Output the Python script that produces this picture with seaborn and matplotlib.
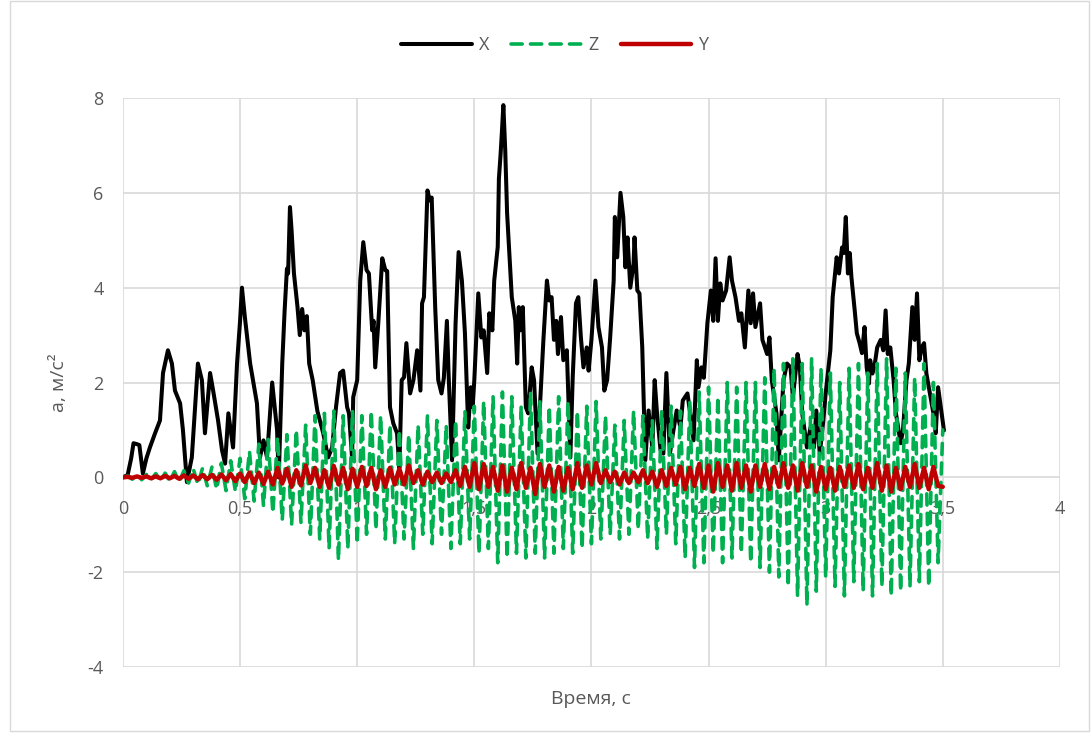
import numpy as np
import pandas as pd
import matplotlib
matplotlib.use("Agg")
import matplotlib.pyplot as plt
import seaborn as sns
from matplotlib.patches import Rectangle

# ---------------- data ----------------
X_TIME = [0.0, 0.02, 0.035, 0.045, 0.06, 0.07, 0.085, 0.1, 0.115, 0.137, 0.158, 0.171, 0.192, 0.209,
          0.222, 0.244, 0.256, 0.273, 0.294, 0.32, 0.337, 0.35, 0.372, 0.385, 0.406, 0.423, 0.436,
          0.45, 0.47, 0.487, 0.5, 0.508, 0.52, 0.543, 0.572, 0.585, 0.6, 0.615, 0.637, 0.658, 0.665,
          0.68, 0.69, 0.7, 0.705, 0.713, 0.72, 0.73, 0.745, 0.755, 0.765, 0.775, 0.785, 0.795, 0.81,
          0.83, 0.855, 0.876, 0.893, 0.91, 0.927, 0.94, 0.957, 0.965, 0.978, 0.983, 1.0, 1.013, 1.026,
          1.04, 1.05, 1.064, 1.07, 1.077, 1.09, 1.107, 1.12, 1.128, 1.14, 1.154, 1.17, 1.18, 1.19, 1.2,
          1.21, 1.226, 1.24, 1.256, 1.27, 1.277, 1.285, 1.3, 1.31, 1.318, 1.333, 1.346, 1.36, 1.37,
          1.383, 1.39, 1.405, 1.42, 1.433, 1.447, 1.46, 1.474, 1.485, 1.493, 1.5, 1.517, 1.53, 1.54,
          1.555, 1.564, 1.577, 1.585, 1.6, 1.605, 1.612, 1.618, 1.624, 1.632, 1.64, 1.66, 1.675, 1.683,
          1.69, 1.696, 1.707, 1.72, 1.73, 1.745, 1.755, 1.77, 1.78, 1.795, 1.81, 1.82, 1.83, 1.84, 1.85,
          1.857, 1.87, 1.88, 1.895, 1.91, 1.92, 1.934, 1.944, 1.955, 1.966, 1.98, 1.988, 2.0, 2.017,
          2.03, 2.045, 2.055, 2.067, 2.08, 2.095, 2.1, 2.11, 2.124, 2.136, 2.145, 2.154, 2.166, 2.18,
          2.184, 2.196, 2.205, 2.217, 2.23, 2.244, 2.26, 2.27, 2.28, 2.295, 2.307, 2.32, 2.335, 2.35,
          2.364, 2.38, 2.39, 2.41, 2.42, 2.436, 2.45, 2.457, 2.47, 2.48, 2.495, 2.51, 2.52, 2.53, 2.54,
          2.55, 2.56, 2.575, 2.59, 2.6, 2.615, 2.63, 2.64, 2.655, 2.67, 2.68, 2.69, 2.7, 2.72, 2.73,
          2.75, 2.76, 2.77, 2.79, 2.8, 2.82, 2.835, 2.85, 2.86, 2.88, 2.89, 2.9, 2.92, 2.935, 2.95,
          2.96, 2.975, 2.99, 3.0, 3.02, 3.03, 3.047, 3.057, 3.07, 3.077, 3.086, 3.095, 3.103, 3.11,
          3.124, 3.133, 3.145, 3.155, 3.166, 3.175, 3.185, 3.19, 3.2, 3.21, 3.22, 3.235, 3.246, 3.256,
          3.265, 3.276, 3.29, 3.3, 3.32, 3.33, 3.345, 3.355, 3.37, 3.38, 3.39, 3.4, 3.41, 3.42, 3.43,
          3.445, 3.46, 3.47, 3.48, 3.495, 3.505]
X_VALUES = [0.0, 0.05, 0.4, 0.72, 0.7, 0.68, 0.08, 0.4, 0.63, 0.93, 1.2, 2.2, 2.68, 2.4,
            1.83, 1.56, 1.0, -0.1, 0.42, 2.4, 2.05, 0.93, 2.2, 1.83, 1.2, 0.57, 0.29,
            1.35, 0.63, 2.4, 3.3, 4.0, 3.4, 2.4, 1.56, 0.42, 0.78, 0.42, 2.0, 0.99, 0.0,
            2.4, 3.5, 4.4, 4.3, 5.7, 5.2, 4.3, 3.6, 3.0, 3.55, 3.1, 3.4, 2.4, 2.05,
            1.4, 0.93, 0.42, 0.63, 1.5, 2.2, 2.25, 1.48, 1.35, 0.42, 1.69, 2.05, 4.15, 4.96,
            4.37, 4.3, 3.1, 3.3, 2.32, 3.25, 4.62, 4.37, 4.35, 1.48, 1.14, 0.93, 0.2, 2.05, 2.11,
            2.83, 1.77, 2.05, 2.68, 1.83, 3.67, 3.8, 6.05, 5.84, 5.9, 3.59, 2.05, 1.77, 2.1,
            3.3, 2.2, 0.36, 3.25, 4.75, 4.15, 3.04, 1.05, 1.9, 1.48, 2.05, 3.88, 2.95, 3.1,
            2.2, 3.46, 3.1, 4.15, 4.86, 6.3, 6.8, 7.3, 7.85, 6.9, 5.57, 3.8, 3.3, 2.4,
            3.59, 3.1, 3.59, 1.48, 1.35, 2.32, 2.05, 0.5, 1.48, 2.9, 4.15, 3.73, 3.8, 2.9, 3.3,
            2.6, 3.38, 2.47, 2.68, 0.42, 2.1, 3.67, 3.8, 2.95, 2.32, 2.74, 2.25, 2.9, 4.15,
            3.17, 2.74, 1.83, 2.05, 2.95, 4.15, 5.49, 4.64, 6.0, 5.49, 4.43, 5.06, 4.0, 4.52,
            5.06, 3.94, 3.88, 2.74, 0.36, 1.41, 0.63, 2.05, 1.35, 0.57, 0.5, 2.2, 0.5, 0.99,
            1.41, 1.05, 1.62, 1.77, 1.41, 0.78, 2.47, 1.9, 2.32, 2.1, 3.25, 3.94, 3.3, 4.62, 3.3,
            4.09, 3.73, 3.94, 4.64, 4.15, 3.8, 3.3, 3.46, 2.74, 3.94, 3.25, 3.88, 3.17, 3.67, 2.9,
            2.6, 2.95, 2.05, 1.35, 0.36, 2.05, 2.4, 2.32, 1.69, 2.6, 2.32, 1.35, 0.63, 1.05, 0.63,
            1.41, 0.5, 1.2, 1.77, 2.68, 3.8, 4.64, 4.3, 4.85, 4.73, 5.49, 4.3, 4.73, 4.22,
            3.52, 3.04, 2.83, 2.62, 3.17, 2.32, 1.98, 2.47, 2.19, 2.4, 2.74, 2.9, 2.68, 3.52,
            2.6, 2.74, 2.05, 1.35, 0.72, 0.99, 2.05, 2.4, 3.59, 2.9, 3.88, 2.47, 2.74, 2.83, 2.19,
            1.77, 1.35, 0.93, 1.9, 1.35, 0.99]

# Z and Y sampled at the turning points of their oscillation (every 0.02 s)
ZY_TIME = np.round(np.arange(176) * 0.02, 2)
Z_VALUES = [0.0, 0.03, -0.04, 0.05, -0.05, 0.06, -0.05, 0.08, -0.07, 0.09,
            -0.08, 0.12, -0.1, 0.14, -0.12, 0.18, -0.15, 0.2, -0.18, 0.22,
            -0.25, 0.3, -0.28, 0.35, -0.3, 0.4, -0.45, 0.55, -0.5, 0.7,
            -0.6, 0.8, -0.75, 0.85, -0.9, 0.9, -1.0, 1.0, -0.95, 1.1,
            -1.2, 1.3, -1.3, 1.35, -1.5, 1.4, -1.75, 1.3, -1.5, 1.4,
            -1.4, 1.3, -1.2, 1.4, -1.1, 1.3, -1.3, 1.1, -1.4, 1.0,
            -1.3, 0.9, -1.5, 1.1, -1.2, 1.3, -1.4, 1.2, -1.2, 1.1,
            -1.5, 1.2, -1.4, 1.4, -1.3, 1.5, -1.6, 1.6, -1.5, 1.7,
            -1.8, 1.8, -1.7, 1.7, -1.6, 1.5, -1.7, 1.8, -1.6, 1.6,
            -1.7, 1.5, -1.6, 1.7, -1.5, 1.6, -1.6, 1.4, -1.5, 1.5,
            -1.4, 1.6, -1.3, 1.3, -1.2, 1.1, -1.3, 1.2, -1.2, 1.4,
            -1.1, 1.3, -1.3, 1.2, -1.5, 1.4, -1.2, 1.5, -1.4, 1.4,
            -1.7, 1.6, -1.9, 1.8, -1.8, 1.9, -1.6, 1.7, -1.8, 2.0,
            -1.7, 1.9, -1.6, 2.0, -1.8, 2.0, -1.9, 2.1, -2.0, 2.3,
            -2.1, 2.4, -2.3, 2.5, -2.5, 2.4, -2.7, 2.5, -2.4, 2.3,
            -2.1, 2.2, -2.3, 2.0, -2.5, 2.3, -2.2, 2.4, -2.4, 2.2,
            -2.5, 2.4, -2.3, 2.5, -2.5, 2.3, -2.4, 2.2, -2.3, 2.1,
            -2.2, 2.4, -2.3, 2.0, -1.8, 1.0]
Y_VALUES = [0.0, 0.01, -0.01, 0.02, -0.01, 0.02, -0.02, 0.02, -0.02, 0.03,
            -0.02, 0.03, -0.03, 0.04, -0.03, 0.04, -0.04, 0.05, -0.04, 0.05,
            -0.05, 0.06, -0.06, 0.07, -0.08, 0.08, -0.1, 0.1, -0.12, 0.1,
            -0.14, 0.12, -0.15, 0.2, -0.13, 0.18, -0.2, 0.15, -0.17, 0.25,
            -0.12, 0.2, -0.2, 0.15, -0.22, 0.24, -0.15, 0.2, -0.25, 0.18,
            -0.2, 0.22, -0.18, 0.2, -0.25, 0.15, -0.2, 0.2, -0.15, 0.18,
            -0.15, 0.25, -0.12, 0.15, -0.15, 0.12, -0.1, 0.1, -0.12, 0.08,
            -0.1, 0.15, -0.18, 0.22, -0.2, 0.3, -0.25, 0.28, -0.2, 0.22,
            -0.28, 0.25, -0.3, 0.2, -0.25, 0.3, -0.22, 0.2, -0.35, 0.28,
            -0.2, 0.25, -0.3, 0.22, -0.28, 0.2, -0.25, 0.3, -0.22, 0.25,
            -0.15, 0.3, -0.12, 0.15, -0.1, 0.12, -0.15, 0.1, -0.12, 0.1,
            -0.1, 0.15, -0.12, 0.12, -0.2, 0.15, -0.18, 0.2, -0.15, 0.22,
            -0.25, 0.2, -0.18, 0.28, -0.22, 0.25, -0.3, 0.3, -0.2, 0.25,
            -0.28, 0.3, -0.22, 0.25, -0.3, 0.25, -0.2, 0.28, -0.25, 0.22,
            -0.2, 0.3, -0.22, 0.25, -0.28, 0.3, -0.2, 0.25, -0.3, 0.22,
            -0.25, 0.2, -0.28, 0.22, -0.2, 0.25, -0.22, 0.28, -0.25, 0.2,
            -0.22, 0.3, -0.28, 0.25, -0.3, 0.2, -0.25, 0.22, -0.2, 0.28,
            -0.22, 0.2, -0.25, 0.22, -0.18, -0.2]

X_TICKS = [0, 0.5, 1, 1.5, 2, 2.5, 3, 3.5, 4]
X_TICK_LABELS = ["0", "0,5", "1", "1,5", "2", "2,5", "3", "3,5", "4"]
Y_TICKS = [-4, -2, 0, 2, 4, 6, 8]

# ---------------- style ----------------
sns.set_theme(style="white")
plt.rcParams["font.family"] = ["Open Sans", "DejaVu Sans"]
plt.rcParams["axes.unicode_minus"] = False
TXT = "#595959"
GRID = "#d9d9d9"

fig = plt.figure(figsize=(10.92, 7.33), dpi=100)
ax = fig.add_axes([0.1126, 0.09, 0.858, 0.7763])

df_x = pd.DataFrame({"t": X_TIME, "a": X_VALUES})
df_z = pd.DataFrame({"t": ZY_TIME, "a": Z_VALUES})
df_y = pd.DataFrame({"t": ZY_TIME, "a": Y_VALUES})

sns.lineplot(data=df_x, x="t", y="a", ax=ax, color="#000000", lw=2.9,
             estimator=None, sort=False, label="X", zorder=3)
sns.lineplot(data=df_z, x="t", y="a", ax=ax, color="#00b050", lw=2.6,
             estimator=None, sort=False, label="Z", zorder=4,
             linestyle=(0, (3.1, 2.3)), dash_capstyle="round")
sns.lineplot(data=df_y, x="t", y="a", ax=ax, color="#c00000", lw=3.2,
             estimator=None, sort=False, label="Y", zorder=5)

ax.set_xlim(0, 4)
ax.set_ylim(-4, 8)
ax.set_xticks(X_TICKS)
ax.set_xticklabels(X_TICK_LABELS)
ax.set_yticks(Y_TICKS)
ax.grid(True, color=GRID, lw=1.2)
ax.set_axisbelow(True)
for s in ["top", "right", "left", "bottom"]:
    ax.spines[s].set_visible(False)
ax.tick_params(axis="x", length=0, pad=16, labelsize=13, labelcolor=TXT)
ax.tick_params(axis="y", length=0, pad=14, labelsize=13, labelcolor=TXT)
# x labels sit under the zero line
ax.spines["bottom"].set_position(("data", 0))

ax.set_xlabel("Время, с", fontsize=14, color=TXT, labelpad=0)
ax.xaxis.set_label_coords(0.5, -0.04)
ax.set_ylabel("a, м/с²", fontsize=14, color=TXT, labelpad=14)

ax.legend_.remove()
h, l = ax.get_legend_handles_labels()
fig.legend(h, l, loc="center", bbox_to_anchor=(0.508, 0.938), ncol=3, frameon=False,
           fontsize=13, labelcolor=TXT, handlelength=3.9, columnspacing=1.2, handletextpad=0.4)

fig.patches.append(Rectangle((0.009, 0.003), 0.988, 0.995, transform=fig.transFigure,
                             fill=False, edgecolor=GRID, lw=1.0))

fig.savefig("out.png", dpi=100)
